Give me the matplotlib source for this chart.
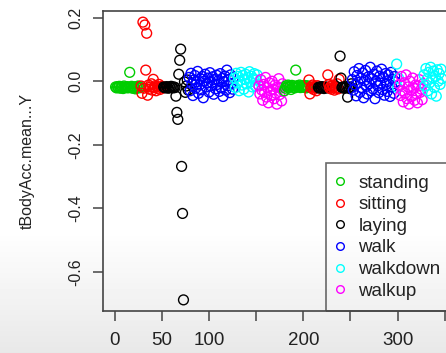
#Plot of tBodyAcc.mean...Y for subject 1, coloured by activity.

import matplotlib
matplotlib.use("Agg")
import matplotlib.pyplot as plt
from matplotlib.lines import Line2D
import numpy as np

plt.rcParams["font.family"] = ["Liberation Sans", "DejaVu Sans"]

# legend order and R default palette colours
activities = ["standing", "sitting", "laying", "walk", "walkdown", "walkup"]
activity_colors = {
    "standing": "#00CD00",
    "sitting": "#FF0000",
    "laying": "#000000",
    "walk": "#0000FF",
    "walkdown": "#00FFFF",
    "walkup": "#FF00FF",
}

# y values, one list per run of rows
standing_1 = [-0.018, -0.021, -0.017, -0.020, -0.016, -0.022, -0.019, -0.018, -0.023, -0.015,
              -0.020, -0.019, -0.017, -0.021, -0.018, 0.028, -0.020, -0.016, -0.022, -0.019,
              -0.018, -0.024, -0.017, -0.020, -0.015, -0.021, -0.019]
sitting_1 = [-0.015, -0.038, 0.186, -0.022, 0.177, 0.035, 0.151, -0.044, -0.012, -0.025,
             -0.018, -0.008, -0.028, 0.006, -0.020, -0.014, -0.030, -0.017, -0.022, -0.010,
             -0.026, -0.019, -0.016, -0.021]
laying_1 = [-0.018, -0.020, -0.021, -0.017, -0.019, -0.022, -0.018, -0.020, -0.016, -0.019,
            -0.021, -0.018, -0.020, -0.047, -0.098, -0.120, 0.022, 0.066, 0.101, -0.268,
            -0.416, -0.688, -0.002, -0.035, -0.015, 0.004, -0.028]
walk_1 = [0.012, -0.030, 0.025, -0.008, -0.045, 0.004, 0.018, -0.022, -0.002, 0.031,
          -0.038, -0.012, 0.008, -0.027, 0.015, -0.052, 0.000, 0.022, -0.018, -0.006,
          0.010, -0.034, 0.027, -0.015, -0.004, 0.014, -0.041, 0.006, -0.024, 0.019,
          -0.010, 0.002, -0.032, 0.024, -0.020, 0.009, -0.048, -0.001, 0.016, -0.028,
          0.035, -0.014, 0.005, -0.036, 0.020, -0.007, -0.025, 0.012]
walkdown_1 = [0.010, -0.020, 0.025, -0.005, 0.015, -0.030, 0.002, 0.028, -0.012, 0.018,
              -0.025, 0.006, 0.022, -0.008, 0.012, -0.034, 0.030, -0.002, 0.016, -0.018,
              0.008, 0.024, -0.015, 0.004, 0.020, -0.010]
walkup_1 = [-0.015, -0.040, 0.005, -0.028, -0.060, -0.010, -0.035, 0.012, -0.050, -0.020,
            -0.068, -0.005, -0.030, -0.045, 0.000, -0.025, -0.055, -0.012, -0.038, -0.072,
            -0.018, 0.008, -0.042, -0.022, -0.062, -0.008, -0.032]
standing_2 = [-0.030, -0.022, -0.014, -0.018, -0.012, -0.020, -0.016, -0.026, -0.013, -0.019,
              -0.015, -0.021, 0.035, -0.017, -0.014, -0.018, -0.012, -0.020, -0.016, -0.015,
              -0.019, -0.013, -0.017, -0.021, -0.014, -0.018]
sitting_2 = [0.004, -0.040, -0.018, -0.022, -0.012, -0.026, -0.016, -0.020, -0.030, -0.014]
laying_2 = [-0.019, -0.022, -0.018, -0.021, -0.017, -0.020, -0.023, -0.019, -0.018, -0.021]
sitting_3 = [0.020, -0.010, -0.022, -0.016, -0.025, -0.012, -0.019, -0.028, -0.015, -0.020,
             -0.008, -0.024, 0.006]
laying_3 = [0.079, 0.010, -0.020, -0.018, -0.022, -0.019, -0.021, -0.017, -0.050, -0.020,
            -0.023, -0.018, -0.008]
walk_2 = [0.005, -0.028, 0.030, -0.012, -0.046, 0.018, -0.004, 0.040, -0.035, 0.010,
          -0.020, 0.026, -0.052, 0.002, 0.034, -0.016, -0.040, 0.014, -0.008, 0.044,
          -0.030, 0.008, -0.024, 0.022, -0.055, 0.000, 0.032, -0.014, -0.036, 0.016,
          -0.006, 0.038, -0.026, 0.012, -0.044, 0.024, -0.010, -0.032, 0.020, 0.003,
          -0.048, 0.028, -0.018, 0.006, -0.038, 0.015, -0.002]
walkdown_2 = [0.054, -0.020, 0.010]
walkup_2 = [-0.010, -0.045, 0.015, -0.030, -0.065, -0.005, -0.038, 0.020, -0.055, -0.018,
            -0.072, 0.000, -0.028, -0.048, 0.010, -0.022, -0.060, -0.012, -0.040, -0.068,
            -0.015, 0.005, -0.035, -0.025, -0.058, -0.008]
walkdown_3 = [0.020, -0.015, 0.040, 0.005, -0.030, 0.028, -0.005, 0.044, -0.040, 0.012,
              0.032, -0.020, 0.015, -0.047, 0.036, 0.000, 0.024, -0.010, 0.038, 0.008]

# runs in row order
runs = [
    ("standing", standing_1), ("sitting", sitting_1), ("laying", laying_1),
    ("walk", walk_1), ("walkdown", walkdown_1), ("walkup", walkup_1),
    ("standing", standing_2), ("sitting", sitting_2), ("laying", laying_2),
    ("sitting", sitting_3), ("laying", laying_3), ("walk", walk_2),
    ("walkdown", walkdown_2), ("walkup", walkup_2), ("walkdown", walkdown_3),
]

x_ticks = [0, 50, 100, 150, 200, 250, 300, 350]
x_tick_labels = ["0", "50", "100", "", "200", "", "300", ""]
y_ticks = [0.2, 0.0, -0.2, -0.4, -0.6]
y_tick_labels = ["0.2", "0.0", "-0.2", "-0.4", "-0.6"]

y_values = []
point_colors = []
for activity, vals in runs:
    y_values.extend(vals)
    point_colors.extend([activity_colors[activity]] * len(vals))
y_values = np.array(y_values)
x_values = np.arange(1, len(y_values) + 1)

fig = plt.figure(figsize=(4.46, 3.53), dpi=100)
fig.patch.set_alpha(0)

# light grey fade at the bottom of the screenshot
bg = fig.add_axes([0, 0, 1, 1], zorder=-1)
shade = np.ones(353)
shade[230:] = np.linspace(1.0, 0.91, 123)
bg.imshow(shade[:, None], aspect="auto", cmap="gray", vmin=0, vmax=1, extent=[0, 1, 0, 1])
bg.axis("off")

ax = fig.add_axes([102.5 / 446, 42 / 353, 352.5 / 446, 300 / 353])
ax.patch.set_alpha(0)

ax.scatter(x_values, y_values, s=50, facecolors="none", edgecolors=point_colors, linewidths=1.0)

ax.set_xlim(-12.84, 360.84)
ax.set_ylim(-0.723, 0.221)

# the screenshot is stretched sideways, so flat text is set a bit wider than upright text
flat_size = 13.5
upright_size = 11.5

ax.set_xticks(x_ticks)
ax.set_xticklabels(x_tick_labels, fontsize=flat_size)
ax.set_yticks(y_ticks)
ax.set_yticklabels(y_tick_labels, rotation=90, va="center", fontsize=upright_size)
ax.tick_params(axis="both", direction="out", length=7, width=1.1, color="#444444",
               labelcolor="#222222")
ax.tick_params(axis="x", pad=8)
ax.tick_params(axis="y", pad=7)

for spine in ax.spines.values():
    spine.set_color("#444444")
    spine.set_linewidth(1.2)

ax.set_ylabel("tBodyAcc.mean...Y", fontsize=upright_size, color="#222222", labelpad=24)

handles = [Line2D([], [], linestyle="none", marker="o", markersize=5.5, markerfacecolor="none",
                  markeredgecolor=activity_colors[a], markeredgewidth=1.0) for a in activities]
leg = ax.legend(handles, activities, loc="lower left", bbox_to_anchor=((326 - 102.5) / 352.5, 0),
                borderaxespad=0, frameon=True, fancybox=False, fontsize=flat_size,
                labelspacing=0.24, handletextpad=0.8, handlelength=0.32, borderpad=0.6)
leg.get_frame().set_edgecolor("#444444")
leg.get_frame().set_linewidth(1.2)
leg.get_frame().set_facecolor("none")
for t in leg.get_texts():
    t.set_color("#222222")

fig.savefig("out.png", dpi=100)
